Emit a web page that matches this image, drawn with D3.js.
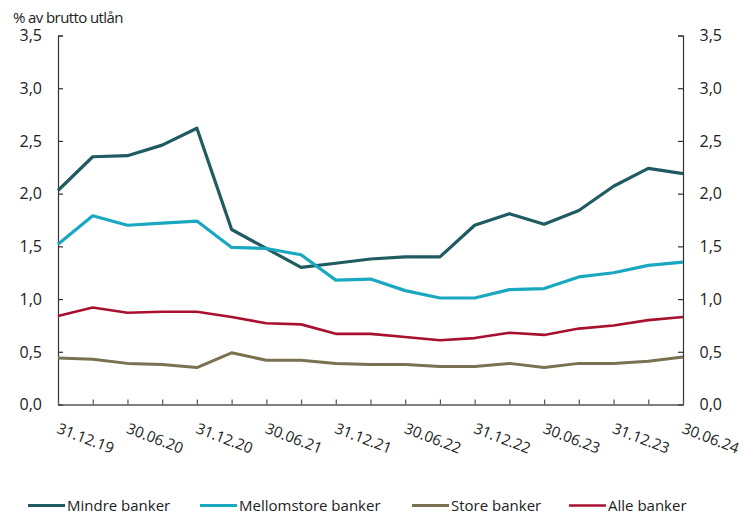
<!DOCTYPE html>
<html>
<head>
<meta charset="utf-8">
<script src="https://cdn.jsdelivr.net/npm/d3@7"></script>
<style>
  body { margin: 0; background: #fff; }
  svg text { font-family: "Open Sans", sans-serif; fill: #222; }
</style>
</head>
<body>
<div id="chart"></div>
<script>
// quarterly dates, 31.12.19 - 30.06.24
const dates = ["31.12.19", "31.03.20", "30.06.20", "30.09.20", "31.12.20", "31.03.21", "30.06.21",
  "30.09.21", "31.12.21", "31.03.22", "30.06.22", "30.09.22", "31.12.22", "31.03.23", "30.06.23",
  "30.09.23", "31.12.23", "31.03.24", "30.06.24"];

const mindre = [2.03, 2.35, 2.36, 2.46, 2.62, 1.66, 1.48, 1.30, 1.34, 1.38, 1.40, 1.40, 1.70, 1.81, 1.71, 1.84, 2.07, 2.24, 2.19];
const mellom = [1.52, 1.79, 1.70, 1.72, 1.74, 1.49, 1.48, 1.42, 1.18, 1.19, 1.08, 1.01, 1.01, 1.09, 1.10, 1.21, 1.25, 1.32, 1.35];
const store = [0.44, 0.43, 0.39, 0.38, 0.35, 0.49, 0.42, 0.42, 0.39, 0.38, 0.38, 0.36, 0.36, 0.39, 0.35, 0.39, 0.39, 0.41, 0.45];
const alle = [0.84, 0.92, 0.87, 0.88, 0.88, 0.83, 0.77, 0.76, 0.67, 0.67, 0.64, 0.61, 0.63, 0.68, 0.66, 0.72, 0.75, 0.80, 0.83];

const yTicks = [0, 0.5, 1, 1.5, 2, 2.5, 3, 3.5];

const series = [
  { name: "Mindre banker", values: mindre, color: "#1f5b61", width: 3.2 },
  { name: "Mellomstore banker", values: mellom, color: "#1aa8c1", width: 3.2 },
  { name: "Store banker", values: store, color: "#7a7150", width: 3 },
  { name: "Alle banker", values: alle, color: "#a8102f", width: 2.6 }
];

const W = 743, H = 513;
const mLeft = 58, mRight = 683, mTop = 35.5, mBottom = 404.5;

const svg = d3.select("#chart").append("svg")
    .attr("width", W)
    .attr("height", H);

const x = d3.scalePoint().domain(dates).range([mLeft, mRight]);
const y = d3.scaleLinear().domain([0, 3.5]).range([mBottom, mTop]);
const fmt = v => d3.format(".1f")(v).replace(".", ",");

// y axes, ticks pointing inwards
const yl = svg.append("g")
    .attr("transform", `translate(${mLeft},0)`)
    .call(d3.axisRight(y).tickValues(yTicks).tickSize(5).tickFormat(""));
const yr = svg.append("g")
    .attr("transform", `translate(${mRight},0)`)
    .call(d3.axisLeft(y).tickValues(yTicks).tickSize(5).tickFormat(""));
[yl, yr].forEach(g => {
  g.select(".domain").attr("stroke", "#333").attr("stroke-width", 1.2);
  g.selectAll(".tick line").attr("stroke", "#333").attr("stroke-width", 1.2);
});

svg.append("g").selectAll("text")
  .data(yTicks).join("text")
    .attr("x", mLeft - 16)
    .attr("y", d => y(d))
    .attr("dy", "0.36em")
    .attr("text-anchor", "end")
    .style("font-size", "16px")
    .text(fmt);
svg.append("g").selectAll("text")
  .data(yTicks).join("text")
    .attr("x", mRight + 16.5)
    .attr("y", d => y(d))
    .attr("dy", "0.36em")
    .attr("text-anchor", "start")
    .style("font-size", "16px")
    .text(fmt);

// x axis
const xa = svg.append("g")
    .attr("transform", `translate(0,${mBottom})`)
    .call(d3.axisTop(x).tickSize(5).tickSizeOuter(0).tickFormat(""));
xa.select(".domain").attr("stroke", "#555").attr("stroke-width", 1.3);
xa.selectAll(".tick line").attr("stroke", "#555").attr("stroke-width", 1.2);

svg.append("g").selectAll("text")
  .data(dates.filter((d, i) => i % 2 === 0)).join("text")
    .attr("transform", d => `translate(${x(d) - 2},${mBottom + 28}) rotate(21)`)
    .attr("text-anchor", "start")
    .style("font-size", "15px")
    .text(d => d);

svg.append("text")
    .attr("x", 13)
    .attr("y", 22.5)
    .style("font-size", "15px")
    .style("letter-spacing", "-0.6px")
    .text("% av brutto utlån");

// lines
const line = d3.line()
    .x((d, i) => x(dates[i]))
    .y(d => y(d));

svg.append("g").selectAll("path")
  .data(series).join("path")
    .attr("fill", "none")
    .attr("stroke", d => d.color)
    .attr("stroke-width", d => d.width)
    .attr("stroke-linejoin", "round")
    .attr("d", d => line(d.values));

// legend
const legendX = [28, 200, 412, 569];
const lg = svg.append("g").selectAll("g")
  .data(series).join("g")
    .attr("transform", (d, i) => `translate(${legendX[i]},505.5)`);
lg.append("line")
    .attr("x1", 0).attr("x2", 37)
    .attr("stroke", d => d.color)
    .attr("stroke-width", d => d.width);
lg.append("text")
    .attr("x", 39)
    .attr("y", 5)
    .style("font-size", "15px")
    .text(d => d.name);
</script>
</body>
</html>
